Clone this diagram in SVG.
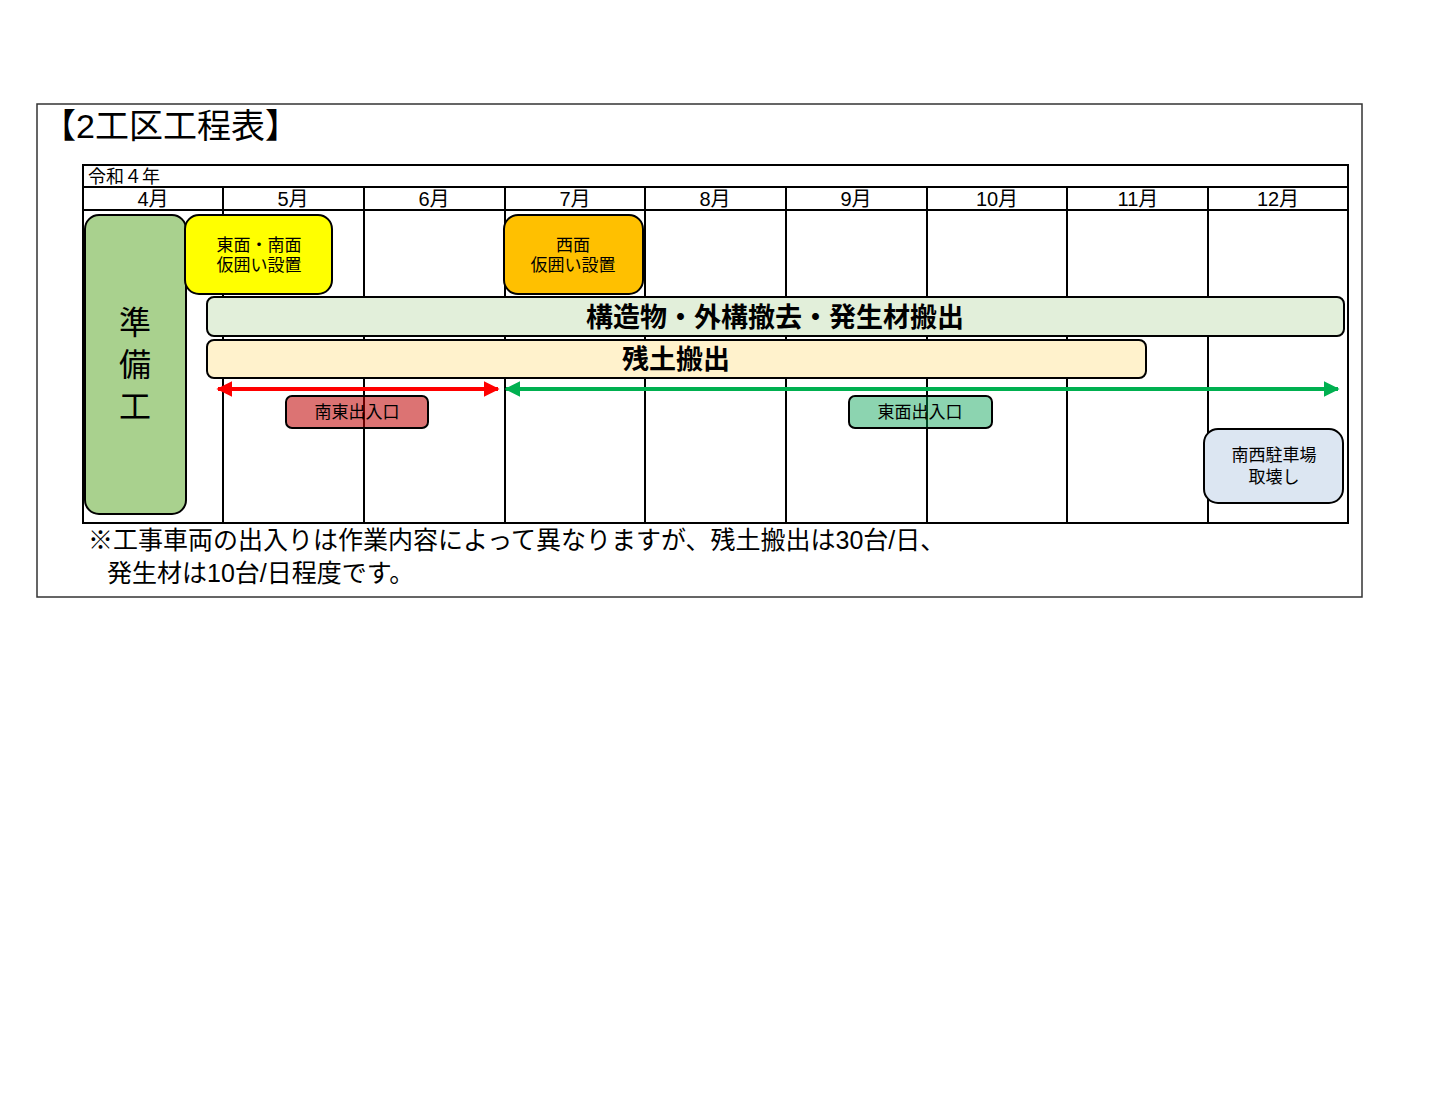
<svg xmlns="http://www.w3.org/2000/svg" width="1440" height="1112" viewBox="0 0 1440 1112">
<style>
text{font-family:"Liberation Sans","Noto Sans CJK JP",sans-serif;fill:#000}
.g{stroke:#000;stroke-width:2;fill:none}
.b{stroke:#000;stroke-width:2}
.m{font-size:20px;text-anchor:middle}
.s{font-size:17px;text-anchor:middle}
</style>
<defs>
<marker id="ar" viewBox="0 0 10 10" refX="9" refY="5" markerWidth="4" markerHeight="4" orient="auto-start-reverse"><path d="M0,0L10,5L0,10z" fill="#ff0000"/></marker>
<marker id="ag" viewBox="0 0 10 10" refX="9" refY="5" markerWidth="4" markerHeight="4" orient="auto-start-reverse"><path d="M0,0L10,5L0,10z" fill="#00b050"/></marker>
</defs>
<rect width="1440" height="1112" fill="#fff"/>
<rect x="37" y="104" width="1325" height="493" fill="none" stroke="#333" stroke-width="1.5"/>
<text x="42" y="138" font-size="34">【2工区工程表】</text>
<g id="grid">
<rect x="83" y="165" width="1265" height="358" class="g"/>
<line x1="83" y1="187" x2="1348" y2="187" class="g"/>
<line x1="83" y1="210" x2="1348" y2="210" class="g" stroke-width="3"/>
<path class="g" d="M223 187V523M364 187V523M505 187V523M645 187V523M786 187V523M927 187V523M1067 187V523M1208 187V523"/>
<text x="88" y="183" font-size="18">令和４年</text>
<text x="153" y="206" class="m">4月</text><text x="293" y="206" class="m">5月</text><text x="434" y="206" class="m">6月</text><text x="575" y="206" class="m">7月</text><text x="715" y="206" class="m">8月</text><text x="856" y="206" class="m">9月</text><text x="997" y="206" class="m">10月</text><text x="1138" y="206" class="m">11月</text><text x="1278" y="206" class="m">12月</text>
</g>
<g id="junbi"><rect x="85" y="215" width="101" height="299" rx="14" fill="#a9d18e" class="b"/>
<text x="135" y="334" font-size="32" text-anchor="middle">準</text><text x="135" y="376" font-size="32" text-anchor="middle">備</text><text x="135" y="418" font-size="32" text-anchor="middle">工</text></g>
<g id="kakoi1"><rect x="185" y="215" width="147" height="79" rx="14" fill="#ffff00" class="b"/>
<text x="259" y="251" class="s">東面・南面</text><text x="259" y="271" class="s">仮囲い設置</text></g>
<g id="kakoi2"><rect x="504" y="215" width="139" height="79" rx="14" fill="#ffc000" class="b"/>
<text x="573" y="251" class="s">西面</text><text x="573" y="271" class="s">仮囲い設置</text></g>
<g id="kouzou"><rect x="207" y="297" width="1137" height="39" rx="7" fill="#e2efda" class="b"/>
<text x="775" y="327" font-size="27" text-anchor="middle" font-weight="bold">構造物・外構撤去・発生材搬出</text></g>
<g id="zando"><rect x="207" y="340" width="939" height="38" rx="7" fill="#fff2cc" class="b"/>
<text x="676" y="369" font-size="27" text-anchor="middle" font-weight="bold">残土搬出</text></g>
<g id="connectors">
<line x1="218" y1="389" x2="498" y2="389" stroke="#ff0000" stroke-width="4" marker-start="url(#ar)" marker-end="url(#ar)"/>
<line x1="506" y1="389" x2="1338" y2="389" stroke="#00b050" stroke-width="4" marker-start="url(#ag)" marker-end="url(#ag)"/>
</g>
<g id="nantou"><rect x="286" y="396" width="142" height="32" rx="6" fill="#c00000" fill-opacity="0.55" class="b"/>
<text x="357" y="418" class="s">南東出入口</text></g>
<g id="toumen"><rect x="849" y="396" width="143" height="32" rx="6" fill="#00a050" fill-opacity="0.45" class="b"/>
<text x="920" y="418" class="s">東面出入口</text></g>
<g id="nansei"><rect x="1204" y="429" width="139" height="74" rx="14" fill="#dce6f2" class="b"/>
<text x="1274" y="461" class="s">南西駐車場</text><text x="1274" y="483" class="s">取壊し</text></g>
<text x="88" y="549" font-size="25">※工事車両の出入りは作業内容によって異なりますが、残土搬出は30台/日、</text>
<text x="107" y="582" font-size="25">発生材は10台/日程度です。</text>
</svg>
